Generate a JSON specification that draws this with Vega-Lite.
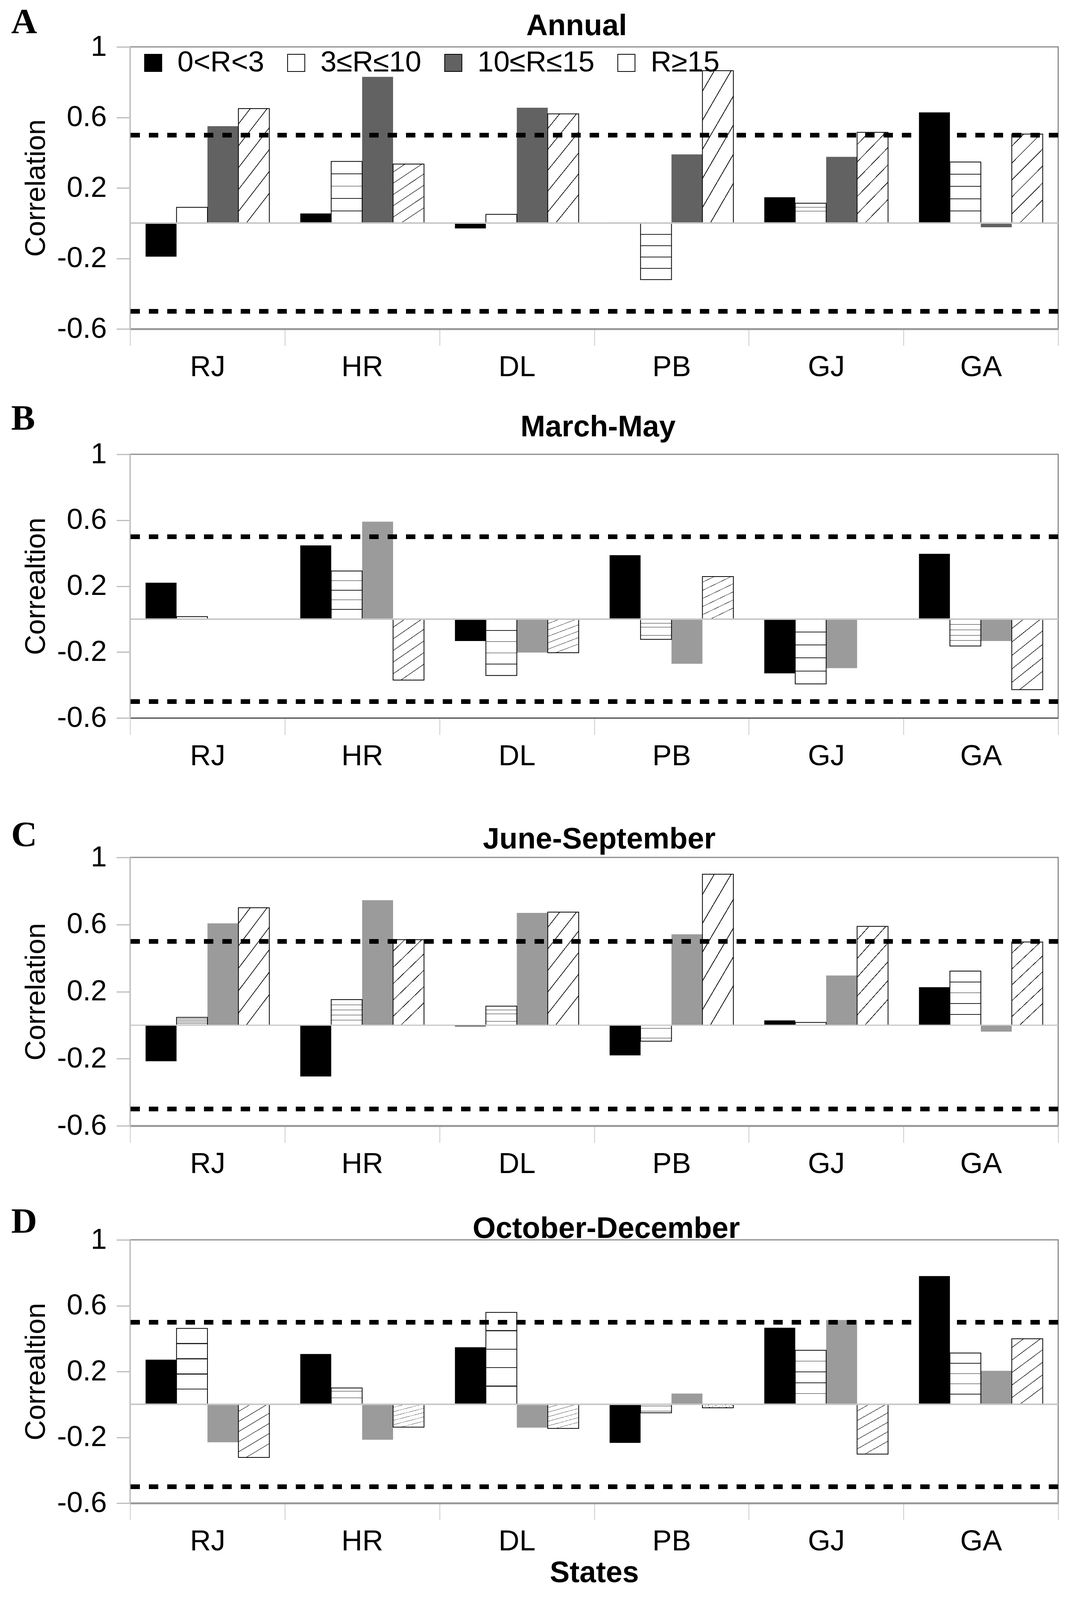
{
 "$schema": "https://vega.github.io/schema/vega-lite/v6.json",
 "background": "white",
 "padding": {"left": 26, "top": 8, "right": 20, "bottom": 6},
 "config": {
  "view": {"stroke": "#8a8a8a", "strokeWidth": 3},
  "axis": {"labelFont": "Liberation Sans", "labelFontSize": 74, "labelColor": "#000000", "titleFont": "Liberation Sans", "titleColor": "#000000", "grid": false},
  "title": {"font": "Liberation Sans", "fontSize": 76, "fontWeight": "bold", "color": "#000000", "anchor": "middle", "frame": "group", "baseline": "alphabetic"}
 },
 "datasets": {
  "corr": [
   {"p":"A","s":"RJ","c":"0<R<3","r":-0.19},{"p":"A","s":"RJ","c":"3≤R≤10","r":0.09},{"p":"A","s":"RJ","c":"10≤R≤15","r":0.55},{"p":"A","s":"RJ","c":"R≥15","r":0.65},
   {"p":"A","s":"HR","c":"0<R<3","r":0.055},{"p":"A","s":"HR","c":"3≤R≤10","r":0.35},{"p":"A","s":"HR","c":"10≤R≤15","r":0.83},{"p":"A","s":"HR","c":"R≥15","r":0.335},
   {"p":"A","s":"DL","c":"0<R<3","r":-0.03},{"p":"A","s":"DL","c":"3≤R≤10","r":0.05},{"p":"A","s":"DL","c":"10≤R≤15","r":0.655},{"p":"A","s":"DL","c":"R≥15","r":0.62},
   {"p":"A","s":"PB","c":"0<R<3","r":0.005},{"p":"A","s":"PB","c":"3≤R≤10","r":-0.32},{"p":"A","s":"PB","c":"10≤R≤15","r":0.39},{"p":"A","s":"PB","c":"R≥15","r":0.865},
   {"p":"A","s":"GJ","c":"0<R<3","r":0.147},{"p":"A","s":"GJ","c":"3≤R≤10","r":0.113},{"p":"A","s":"GJ","c":"10≤R≤15","r":0.376},{"p":"A","s":"GJ","c":"R≥15","r":0.515},
   {"p":"A","s":"GA","c":"0<R<3","r":0.628},{"p":"A","s":"GA","c":"3≤R≤10","r":0.347},{"p":"A","s":"GA","c":"10≤R≤15","r":-0.023},{"p":"A","s":"GA","c":"R≥15","r":0.505},
   {"p":"B","s":"RJ","c":"0<R<3","r":0.221},{"p":"B","s":"RJ","c":"3≤R≤10","r":0.015},
   {"p":"B","s":"HR","c":"0<R<3","r":0.447},{"p":"B","s":"HR","c":"3≤R≤10","r":0.292},{"p":"B","s":"HR","c":"10≤R≤15","r":0.591},{"p":"B","s":"HR","c":"R≥15","r":-0.37},
   {"p":"B","s":"DL","c":"0<R<3","r":-0.133},{"p":"B","s":"DL","c":"3≤R≤10","r":-0.342},{"p":"B","s":"DL","c":"10≤R≤15","r":-0.203},{"p":"B","s":"DL","c":"R≥15","r":-0.204},
   {"p":"B","s":"PB","c":"0<R<3","r":0.388},{"p":"B","s":"PB","c":"3≤R≤10","r":-0.123},{"p":"B","s":"PB","c":"10≤R≤15","r":-0.271},{"p":"B","s":"PB","c":"R≥15","r":0.258},
   {"p":"B","s":"GJ","c":"0<R<3","r":-0.329},{"p":"B","s":"GJ","c":"3≤R≤10","r":-0.393},{"p":"B","s":"GJ","c":"10≤R≤15","r":-0.298},
   {"p":"B","s":"GA","c":"0<R<3","r":0.396},{"p":"B","s":"GA","c":"3≤R≤10","r":-0.163},{"p":"B","s":"GA","c":"10≤R≤15","r":-0.133},{"p":"B","s":"GA","c":"R≥15","r":-0.428},
   {"p":"C","s":"RJ","c":"0<R<3","r":-0.215},{"p":"C","s":"RJ","c":"3≤R≤10","r":0.046},{"p":"C","s":"RJ","c":"10≤R≤15","r":0.607},{"p":"C","s":"RJ","c":"R≥15","r":0.70},
   {"p":"C","s":"HR","c":"0<R<3","r":-0.306},{"p":"C","s":"HR","c":"3≤R≤10","r":0.152},{"p":"C","s":"HR","c":"10≤R≤15","r":0.745},{"p":"C","s":"HR","c":"R≥15","r":0.51},
   {"p":"C","s":"DL","c":"0<R<3","r":-0.007},{"p":"C","s":"DL","c":"3≤R≤10","r":0.113},{"p":"C","s":"DL","c":"10≤R≤15","r":0.669},{"p":"C","s":"DL","c":"R≥15","r":0.674},
   {"p":"C","s":"PB","c":"0<R<3","r":-0.18},{"p":"C","s":"PB","c":"3≤R≤10","r":-0.096},{"p":"C","s":"PB","c":"10≤R≤15","r":0.542},{"p":"C","s":"PB","c":"R≥15","r":0.90},
   {"p":"C","s":"GJ","c":"0<R<3","r":0.028},{"p":"C","s":"GJ","c":"3≤R≤10","r":0.016},{"p":"C","s":"GJ","c":"10≤R≤15","r":0.296},{"p":"C","s":"GJ","c":"R≥15","r":0.589},
   {"p":"C","s":"GA","c":"0<R<3","r":0.226},{"p":"C","s":"GA","c":"3≤R≤10","r":0.322},{"p":"C","s":"GA","c":"10≤R≤15","r":-0.039},{"p":"C","s":"GA","c":"R≥15","r":0.496},
   {"p":"D","s":"RJ","c":"0<R<3","r":0.272},{"p":"D","s":"RJ","c":"3≤R≤10","r":0.462},{"p":"D","s":"RJ","c":"10≤R≤15","r":-0.23},{"p":"D","s":"RJ","c":"R≥15","r":-0.322},
   {"p":"D","s":"HR","c":"0<R<3","r":0.306},{"p":"D","s":"HR","c":"3≤R≤10","r":0.10},{"p":"D","s":"HR","c":"10≤R≤15","r":-0.215},{"p":"D","s":"HR","c":"R≥15","r":-0.138},
   {"p":"D","s":"DL","c":"0<R<3","r":0.347},{"p":"D","s":"DL","c":"3≤R≤10","r":0.559},{"p":"D","s":"DL","c":"10≤R≤15","r":-0.141},{"p":"D","s":"DL","c":"R≥15","r":-0.146},
   {"p":"D","s":"PB","c":"0<R<3","r":-0.234},{"p":"D","s":"PB","c":"3≤R≤10","r":-0.051},{"p":"D","s":"PB","c":"10≤R≤15","r":0.066},{"p":"D","s":"PB","c":"R≥15","r":-0.021},
   {"p":"D","s":"GJ","c":"0<R<3","r":0.466},{"p":"D","s":"GJ","c":"3≤R≤10","r":0.329},{"p":"D","s":"GJ","c":"10≤R≤15","r":0.513},{"p":"D","s":"GJ","c":"R≥15","r":-0.302},
   {"p":"D","s":"GA","c":"0<R<3","r":0.78},{"p":"D","s":"GA","c":"3≤R≤10","r":0.312},{"p":"D","s":"GA","c":"10≤R≤15","r":0.204},{"p":"D","s":"GA","c":"R≥15","r":0.399}
  ]
 },
 "spacing": 44,
 "resolve": {"scale": {"color": "independent", "xOffset": "independent"}, "legend": {"color": "independent"}},
 "vconcat": [
  {
   "width": 2375, "height": 722,
   "title": {"text": "Annual", "offset": -96, "dx": -45},
   "data": {"name": "corr"},
   "transform": [{"filter": "datum.p === 'A'"}],
   "resolve": {"axis": {"x": "independent"}},
   "layer": [
    {"mark": {"type": "bar"},
     "encoding": {
      "x": {"field": "s", "type": "nominal", "scale": {"domain": ["RJ","HR","DL","PB","GJ","GA"], "paddingInner": 0, "paddingOuter": 0},
            "axis": {"title": null, "tickBand": "extent", "tickSize": 43, "tickColor": "#c8c8c8", "tickWidth": 2, "labelPadding": 19, "labelAngle": 0, "domainColor": "#9a9a9a", "domainWidth": 5}},
      "xOffset": {"field": "c", "type": "nominal", "scale": {"domain": ["0<R<3","3≤R≤10","10≤R≤15","R≥15"], "paddingInner": 0, "paddingOuter": 0.5}},
      "y": {"field": "r", "type": "quantitative", "scale": {"domain": [-0.6, 1], "nice": false},
            "axis": {"values": [-0.6,-0.2,0.2,0.6,1], "labelExpr": "toString(datum.value)", "title": "Correlation", "titleFontSize": 72, "titleFontWeight": "normal", "titlePadding": 16, "tickSize": 35, "tickColor": "#bdbdbd", "tickWidth": 3, "labelPadding": 25, "domainColor": "#c4c4c4", "domainWidth": 3}},
      "color": {"field": "c", "type": "nominal", "scale": {"domain": ["0<R<3","3≤R≤10","10≤R≤15","R≥15"], "range": ["#000000","#ffffff","#626262","#ffffff"]},
                "legend": {"orient": "none", "legendX": 22, "legendY": 4, "direction": "horizontal", "columns": 4, "title": null, "padding": 0, "labelFont": "Liberation Sans", "labelFontSize": 74, "labelColor": "#000000", "labelLimit": 0, "symbolType": "square", "symbolSize": 1936, "symbolStrokeColor": "#000000", "symbolStrokeWidth": 2, "labelOffset": 25, "columnPadding": 44}}
     }},
    {"transform": [{"filter": "datum.c === '3≤R≤10' || datum.c === 'R≥15'"}],
     "mark": {"type": "bar", "stroke": "#000000", "strokeWidth": 2},
     "encoding": {
      "x": {"field": "s", "type": "nominal", "axis": {"orient": "top", "title": "A", "labels": false, "ticks": false, "domain": false, "titleFont": "Liberation Serif", "titleFontSize": 92, "titleFontWeight": "bold", "titleX": -305, "titleY": -36, "titleAlign": "left", "titleBaseline": "alphabetic", "titleAngle": 0}},
      "xOffset": {"field": "c", "type": "nominal"},
      "y": {"field": "r", "type": "quantitative"},
      "fill": {"condition": {"test": "datum.c === '3≤R≤10'", "value": {"gradient": "linear", "x1": 0, "y1": 0, "x2": 0, "y2": 1, "stops": [{"offset": 0, "color": "#ffffff"},{"offset": 0.194, "color": "#ffffff"},{"offset": 0.194, "color": "#222222"},{"offset": 0.206, "color": "#222222"},{"offset": 0.206, "color": "#ffffff"},{"offset": 0.394, "color": "#ffffff"},{"offset": 0.394, "color": "#222222"},{"offset": 0.406, "color": "#222222"},{"offset": 0.406, "color": "#ffffff"},{"offset": 0.594, "color": "#ffffff"},{"offset": 0.594, "color": "#222222"},{"offset": 0.606, "color": "#222222"},{"offset": 0.606, "color": "#ffffff"},{"offset": 0.794, "color": "#ffffff"},{"offset": 0.794, "color": "#222222"},{"offset": 0.806, "color": "#222222"},{"offset": 0.806, "color": "#ffffff"},{"offset": 1, "color": "#ffffff"}]}},
               "value": {"gradient": "linear", "x1": 0, "y1": 0, "x2": 0.35, "y2": 1, "stops": [{"offset": 0, "color": "#ffffff"},{"offset": 0.115, "color": "#ffffff"},{"offset": 0.115, "color": "#222222"},{"offset": 0.125, "color": "#222222"},{"offset": 0.125, "color": "#ffffff"},{"offset": 0.285, "color": "#ffffff"},{"offset": 0.285, "color": "#222222"},{"offset": 0.295, "color": "#222222"},{"offset": 0.295, "color": "#ffffff"},{"offset": 0.455, "color": "#ffffff"},{"offset": 0.455, "color": "#222222"},{"offset": 0.465, "color": "#222222"},{"offset": 0.465, "color": "#ffffff"},{"offset": 0.625, "color": "#ffffff"},{"offset": 0.625, "color": "#222222"},{"offset": 0.635, "color": "#222222"},{"offset": 0.635, "color": "#ffffff"},{"offset": 0.795, "color": "#ffffff"},{"offset": 0.795, "color": "#222222"},{"offset": 0.805, "color": "#222222"},{"offset": 0.805, "color": "#ffffff"},{"offset": 0.965, "color": "#ffffff"},{"offset": 0.965, "color": "#222222"},{"offset": 0.975, "color": "#222222"},{"offset": 0.975, "color": "#ffffff"},{"offset": 1, "color": "#ffffff"}]}}
     }},
    {"mark": {"type": "rule", "color": "#c8c8c8", "strokeWidth": 3}, "encoding": {"y": {"datum": 0}}},
    {"mark": {"type": "rule", "color": "#000000", "strokeWidth": 11, "strokeDash": [24, 23]}, "encoding": {"y": {"datum": 0.5}}},
    {"mark": {"type": "rule", "color": "#000000", "strokeWidth": 11, "strokeDash": [24, 23]}, "encoding": {"y": {"datum": -0.5}}}
   ]
  },
  {
   "width": 2375, "height": 675,
   "title": {"text": "March-May", "offset": -108, "dx": 10},
   "data": {"name": "corr"},
   "transform": [{"filter": "datum.p === 'B'"}],
   "resolve": {"axis": {"x": "independent"}},
   "layer": [
    {"mark": {"type": "bar"},
     "encoding": {
      "x": {"field": "s", "type": "nominal", "scale": {"domain": ["RJ","HR","DL","PB","GJ","GA"], "paddingInner": 0, "paddingOuter": 0},
            "axis": {"title": " ", "titleFontSize": 50, "titlePadding": 20, "tickBand": "extent", "tickSize": 43, "tickColor": "#c8c8c8", "tickWidth": 2, "labelPadding": 19, "labelAngle": 0, "domainColor": "#555555", "domainWidth": 3}},
      "xOffset": {"field": "c", "type": "nominal", "scale": {"domain": ["0<R<3","3≤R≤10","10≤R≤15","R≥15"], "paddingInner": 0, "paddingOuter": 0.5}},
      "y": {"field": "r", "type": "quantitative", "scale": {"domain": [-0.6, 1], "nice": false},
            "axis": {"values": [-0.6,-0.2,0.2,0.6,1], "labelExpr": "toString(datum.value)", "title": "Correaltion", "titleFontSize": 72, "titleFontWeight": "normal", "titlePadding": 16, "tickSize": 35, "tickColor": "#bdbdbd", "tickWidth": 3, "labelPadding": 25, "domainColor": "#c4c4c4", "domainWidth": 3}},
      "color": {"field": "c", "type": "nominal", "scale": {"domain": ["0<R<3","3≤R≤10","10≤R≤15","R≥15"], "range": ["#000000","#ffffff","#9b9b9b","#ffffff"]}, "legend": null}
     }},
    {"transform": [{"filter": "datum.c === '3≤R≤10' || datum.c === 'R≥15'"}],
     "mark": {"type": "bar", "stroke": "#000000", "strokeWidth": 2},
     "encoding": {
      "x": {"field": "s", "type": "nominal", "axis": {"orient": "top", "title": "B", "labels": false, "ticks": false, "domain": false, "titleFont": "Liberation Serif", "titleFontSize": 92, "titleFontWeight": "bold", "titleX": -305, "titleY": -64, "titleAlign": "left", "titleBaseline": "alphabetic", "titleAngle": 0}},
      "xOffset": {"field": "c", "type": "nominal"},
      "y": {"field": "r", "type": "quantitative"},
      "fill": {"condition": {"test": "datum.c === '3≤R≤10'", "value": {"gradient": "linear", "x1": 0, "y1": 0, "x2": 0, "y2": 1, "stops": [{"offset": 0, "color": "#ffffff"},{"offset": 0.194, "color": "#ffffff"},{"offset": 0.194, "color": "#222222"},{"offset": 0.206, "color": "#222222"},{"offset": 0.206, "color": "#ffffff"},{"offset": 0.394, "color": "#ffffff"},{"offset": 0.394, "color": "#222222"},{"offset": 0.406, "color": "#222222"},{"offset": 0.406, "color": "#ffffff"},{"offset": 0.594, "color": "#ffffff"},{"offset": 0.594, "color": "#222222"},{"offset": 0.606, "color": "#222222"},{"offset": 0.606, "color": "#ffffff"},{"offset": 0.794, "color": "#ffffff"},{"offset": 0.794, "color": "#222222"},{"offset": 0.806, "color": "#222222"},{"offset": 0.806, "color": "#ffffff"},{"offset": 1, "color": "#ffffff"}]}},
               "value": {"gradient": "linear", "x1": 0, "y1": 0, "x2": 0.35, "y2": 1, "stops": [{"offset": 0, "color": "#ffffff"},{"offset": 0.115, "color": "#ffffff"},{"offset": 0.115, "color": "#222222"},{"offset": 0.125, "color": "#222222"},{"offset": 0.125, "color": "#ffffff"},{"offset": 0.285, "color": "#ffffff"},{"offset": 0.285, "color": "#222222"},{"offset": 0.295, "color": "#222222"},{"offset": 0.295, "color": "#ffffff"},{"offset": 0.455, "color": "#ffffff"},{"offset": 0.455, "color": "#222222"},{"offset": 0.465, "color": "#222222"},{"offset": 0.465, "color": "#ffffff"},{"offset": 0.625, "color": "#ffffff"},{"offset": 0.625, "color": "#222222"},{"offset": 0.635, "color": "#222222"},{"offset": 0.635, "color": "#ffffff"},{"offset": 0.795, "color": "#ffffff"},{"offset": 0.795, "color": "#222222"},{"offset": 0.805, "color": "#222222"},{"offset": 0.805, "color": "#ffffff"},{"offset": 0.965, "color": "#ffffff"},{"offset": 0.965, "color": "#222222"},{"offset": 0.975, "color": "#222222"},{"offset": 0.975, "color": "#ffffff"},{"offset": 1, "color": "#ffffff"}]}}
     }},
    {"mark": {"type": "rule", "color": "#c8c8c8", "strokeWidth": 3}, "encoding": {"y": {"datum": 0}}},
    {"mark": {"type": "rule", "color": "#000000", "strokeWidth": 11, "strokeDash": [24, 23]}, "encoding": {"y": {"datum": 0.5}}},
    {"mark": {"type": "rule", "color": "#000000", "strokeWidth": 11, "strokeDash": [24, 23]}, "encoding": {"y": {"datum": -0.5}}}
   ]
  },
  {
   "width": 2375, "height": 687,
   "title": {"text": "June-September", "offset": -97, "dx": 13},
   "data": {"name": "corr"},
   "transform": [{"filter": "datum.p === 'C'"}],
   "resolve": {"axis": {"x": "independent"}},
   "layer": [
    {"mark": {"type": "bar"},
     "encoding": {
      "x": {"field": "s", "type": "nominal", "scale": {"domain": ["RJ","HR","DL","PB","GJ","GA"], "paddingInner": 0, "paddingOuter": 0},
            "axis": {"title": " ", "titleFontSize": 8, "titlePadding": 8, "tickBand": "extent", "tickSize": 43, "tickColor": "#c8c8c8", "tickWidth": 2, "labelPadding": 19, "labelAngle": 0, "domainColor": "#9a9a9a", "domainWidth": 5}},
      "xOffset": {"field": "c", "type": "nominal", "scale": {"domain": ["0<R<3","3≤R≤10","10≤R≤15","R≥15"], "paddingInner": 0, "paddingOuter": 0.5}},
      "y": {"field": "r", "type": "quantitative", "scale": {"domain": [-0.6, 1], "nice": false},
            "axis": {"values": [-0.6,-0.2,0.2,0.6,1], "labelExpr": "toString(datum.value)", "title": "Correlation", "titleFontSize": 72, "titleFontWeight": "normal", "titlePadding": 16, "tickSize": 35, "tickColor": "#bdbdbd", "tickWidth": 3, "labelPadding": 25, "domainColor": "#c4c4c4", "domainWidth": 3}},
      "color": {"field": "c", "type": "nominal", "scale": {"domain": ["0<R<3","3≤R≤10","10≤R≤15","R≥15"], "range": ["#000000","#ffffff","#9b9b9b","#ffffff"]}, "legend": null}
     }},
    {"transform": [{"filter": "datum.c === '3≤R≤10' || datum.c === 'R≥15'"}],
     "mark": {"type": "bar", "stroke": "#000000", "strokeWidth": 2},
     "encoding": {
      "x": {"field": "s", "type": "nominal", "axis": {"orient": "top", "title": "C", "labels": false, "ticks": false, "domain": false, "titleFont": "Liberation Serif", "titleFontSize": 92, "titleFontWeight": "bold", "titleX": -305, "titleY": -30, "titleAlign": "left", "titleBaseline": "alphabetic", "titleAngle": 0}},
      "xOffset": {"field": "c", "type": "nominal"},
      "y": {"field": "r", "type": "quantitative"},
      "fill": {"condition": {"test": "datum.c === '3≤R≤10'", "value": {"gradient": "linear", "x1": 0, "y1": 0, "x2": 0, "y2": 1, "stops": [{"offset": 0, "color": "#ffffff"},{"offset": 0.194, "color": "#ffffff"},{"offset": 0.194, "color": "#222222"},{"offset": 0.206, "color": "#222222"},{"offset": 0.206, "color": "#ffffff"},{"offset": 0.394, "color": "#ffffff"},{"offset": 0.394, "color": "#222222"},{"offset": 0.406, "color": "#222222"},{"offset": 0.406, "color": "#ffffff"},{"offset": 0.594, "color": "#ffffff"},{"offset": 0.594, "color": "#222222"},{"offset": 0.606, "color": "#222222"},{"offset": 0.606, "color": "#ffffff"},{"offset": 0.794, "color": "#ffffff"},{"offset": 0.794, "color": "#222222"},{"offset": 0.806, "color": "#222222"},{"offset": 0.806, "color": "#ffffff"},{"offset": 1, "color": "#ffffff"}]}},
               "value": {"gradient": "linear", "x1": 0, "y1": 0, "x2": 0.35, "y2": 1, "stops": [{"offset": 0, "color": "#ffffff"},{"offset": 0.115, "color": "#ffffff"},{"offset": 0.115, "color": "#222222"},{"offset": 0.125, "color": "#222222"},{"offset": 0.125, "color": "#ffffff"},{"offset": 0.285, "color": "#ffffff"},{"offset": 0.285, "color": "#222222"},{"offset": 0.295, "color": "#222222"},{"offset": 0.295, "color": "#ffffff"},{"offset": 0.455, "color": "#ffffff"},{"offset": 0.455, "color": "#222222"},{"offset": 0.465, "color": "#222222"},{"offset": 0.465, "color": "#ffffff"},{"offset": 0.625, "color": "#ffffff"},{"offset": 0.625, "color": "#222222"},{"offset": 0.635, "color": "#222222"},{"offset": 0.635, "color": "#ffffff"},{"offset": 0.795, "color": "#ffffff"},{"offset": 0.795, "color": "#222222"},{"offset": 0.805, "color": "#222222"},{"offset": 0.805, "color": "#ffffff"},{"offset": 0.965, "color": "#ffffff"},{"offset": 0.965, "color": "#222222"},{"offset": 0.975, "color": "#222222"},{"offset": 0.975, "color": "#ffffff"},{"offset": 1, "color": "#ffffff"}]}}
     }},
    {"mark": {"type": "rule", "color": "#c8c8c8", "strokeWidth": 3}, "encoding": {"y": {"datum": 0}}},
    {"mark": {"type": "rule", "color": "#000000", "strokeWidth": 11, "strokeDash": [24, 23]}, "encoding": {"y": {"datum": 0.5}}},
    {"mark": {"type": "rule", "color": "#000000", "strokeWidth": 11, "strokeDash": [24, 23]}, "encoding": {"y": {"datum": -0.5}}}
   ]
  },
  {
   "width": 2375, "height": 674,
   "title": {"text": "October-December", "offset": -104, "dx": 31},
   "data": {"name": "corr"},
   "transform": [{"filter": "datum.p === 'D'"}],
   "resolve": {"axis": {"x": "independent"}},
   "layer": [
    {"mark": {"type": "bar"},
     "encoding": {
      "x": {"field": "s", "type": "nominal", "scale": {"domain": ["RJ","HR","DL","PB","GJ","GA"], "paddingInner": 0, "paddingOuter": 0},
            "axis": {"title": "States", "titleFontSize": 76, "titleFontWeight": "bold", "titlePadding": 6, "tickBand": "extent", "tickSize": 43, "tickColor": "#c8c8c8", "tickWidth": 2, "labelPadding": 19, "labelAngle": 0, "domainColor": "#9a9a9a", "domainWidth": 5}},
      "xOffset": {"field": "c", "type": "nominal", "scale": {"domain": ["0<R<3","3≤R≤10","10≤R≤15","R≥15"], "paddingInner": 0, "paddingOuter": 0.5}},
      "y": {"field": "r", "type": "quantitative", "scale": {"domain": [-0.6, 1], "nice": false},
            "axis": {"values": [-0.6,-0.2,0.2,0.6,1], "labelExpr": "toString(datum.value)", "title": "Correaltion", "titleFontSize": 72, "titleFontWeight": "normal", "titlePadding": 16, "tickSize": 35, "tickColor": "#bdbdbd", "tickWidth": 3, "labelPadding": 25, "domainColor": "#c4c4c4", "domainWidth": 3}},
      "color": {"field": "c", "type": "nominal", "scale": {"domain": ["0<R<3","3≤R≤10","10≤R≤15","R≥15"], "range": ["#000000","#ffffff","#9b9b9b","#ffffff"]}, "legend": null}
     }},
    {"transform": [{"filter": "datum.c === '3≤R≤10' || datum.c === 'R≥15'"}],
     "mark": {"type": "bar", "stroke": "#000000", "strokeWidth": 2},
     "encoding": {
      "x": {"field": "s", "type": "nominal", "axis": {"orient": "top", "title": "D", "labels": false, "ticks": false, "domain": false, "titleFont": "Liberation Serif", "titleFontSize": 92, "titleFontWeight": "bold", "titleX": -305, "titleY": -19, "titleAlign": "left", "titleBaseline": "alphabetic", "titleAngle": 0}},
      "xOffset": {"field": "c", "type": "nominal"},
      "y": {"field": "r", "type": "quantitative"},
      "fill": {"condition": {"test": "datum.c === '3≤R≤10'", "value": {"gradient": "linear", "x1": 0, "y1": 0, "x2": 0, "y2": 1, "stops": [{"offset": 0, "color": "#ffffff"},{"offset": 0.194, "color": "#ffffff"},{"offset": 0.194, "color": "#222222"},{"offset": 0.206, "color": "#222222"},{"offset": 0.206, "color": "#ffffff"},{"offset": 0.394, "color": "#ffffff"},{"offset": 0.394, "color": "#222222"},{"offset": 0.406, "color": "#222222"},{"offset": 0.406, "color": "#ffffff"},{"offset": 0.594, "color": "#ffffff"},{"offset": 0.594, "color": "#222222"},{"offset": 0.606, "color": "#222222"},{"offset": 0.606, "color": "#ffffff"},{"offset": 0.794, "color": "#ffffff"},{"offset": 0.794, "color": "#222222"},{"offset": 0.806, "color": "#222222"},{"offset": 0.806, "color": "#ffffff"},{"offset": 1, "color": "#ffffff"}]}},
               "value": {"gradient": "linear", "x1": 0, "y1": 0, "x2": 0.35, "y2": 1, "stops": [{"offset": 0, "color": "#ffffff"},{"offset": 0.115, "color": "#ffffff"},{"offset": 0.115, "color": "#222222"},{"offset": 0.125, "color": "#222222"},{"offset": 0.125, "color": "#ffffff"},{"offset": 0.285, "color": "#ffffff"},{"offset": 0.285, "color": "#222222"},{"offset": 0.295, "color": "#222222"},{"offset": 0.295, "color": "#ffffff"},{"offset": 0.455, "color": "#ffffff"},{"offset": 0.455, "color": "#222222"},{"offset": 0.465, "color": "#222222"},{"offset": 0.465, "color": "#ffffff"},{"offset": 0.625, "color": "#ffffff"},{"offset": 0.625, "color": "#222222"},{"offset": 0.635, "color": "#222222"},{"offset": 0.635, "color": "#ffffff"},{"offset": 0.795, "color": "#ffffff"},{"offset": 0.795, "color": "#222222"},{"offset": 0.805, "color": "#222222"},{"offset": 0.805, "color": "#ffffff"},{"offset": 0.965, "color": "#ffffff"},{"offset": 0.965, "color": "#222222"},{"offset": 0.975, "color": "#222222"},{"offset": 0.975, "color": "#ffffff"},{"offset": 1, "color": "#ffffff"}]}}
     }},
    {"mark": {"type": "rule", "color": "#c8c8c8", "strokeWidth": 3}, "encoding": {"y": {"datum": 0}}},
    {"mark": {"type": "rule", "color": "#000000", "strokeWidth": 11, "strokeDash": [24, 23]}, "encoding": {"y": {"datum": 0.5}}},
    {"mark": {"type": "rule", "color": "#000000", "strokeWidth": 11, "strokeDash": [24, 23]}, "encoding": {"y": {"datum": -0.5}}}
   ]
  }
 ]
}
